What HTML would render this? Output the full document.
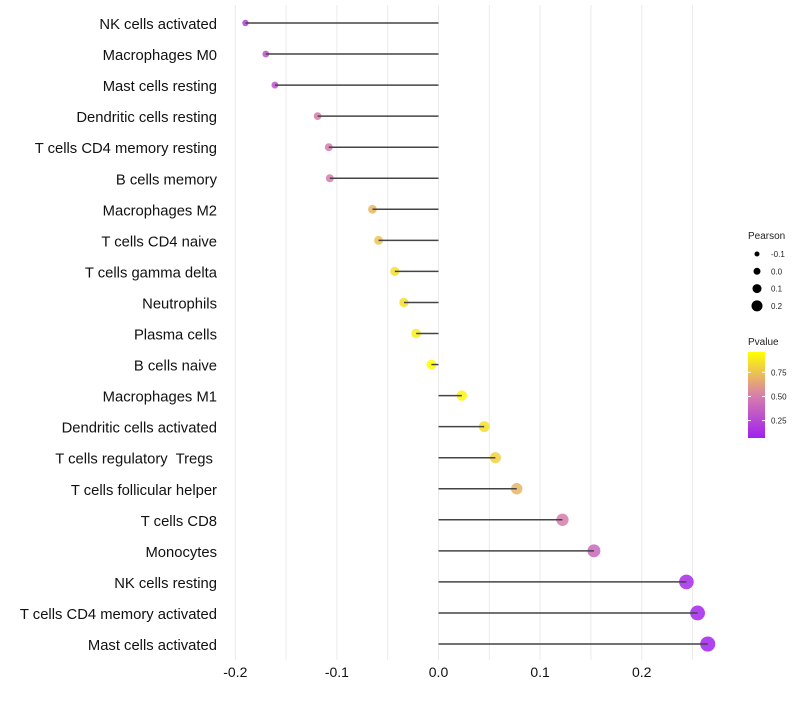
<!DOCTYPE html>
<html><head><meta charset="utf-8"><style>
body{margin:0;background:#fff;font-family:"Liberation Sans",sans-serif}
text{white-space:pre}
</style></head><body>
<svg id="c" width="800" height="700" xmlns="http://www.w3.org/2000/svg" font-family="Liberation Sans, sans-serif"></svg>
<script>
const categories=["NK cells activated","Macrophages M0","Mast cells resting","Dendritic cells resting","T cells CD4 memory resting","B cells memory","Macrophages M2","T cells CD4 naive","T cells gamma delta","Neutrophils","Plasma cells","B cells naive","Macrophages M1","Dendritic cells activated","T cells regulatory  Tregs ","T cells follicular helper","T cells CD8","Monocytes","NK cells resting","T cells CD4 memory activated","Mast cells activated"];
const pearson=[-0.190,-0.170,-0.161,-0.119,-0.108,-0.107,-0.065,-0.059,-0.043,-0.034,-0.022,-0.007,0.023,0.045,0.056,0.077,0.122,0.153,0.244,0.255,0.265];
const pvalue=[0.22,0.30,0.30,0.50,0.50,0.50,0.70,0.75,0.85,0.85,0.90,0.98,0.93,0.85,0.80,0.70,0.50,0.40,0.12,0.10,0.08];
const xTicks=[-0.2,-0.1,0.0,0.1,0.2];
const xTickLabels=["-0.2","-0.1","0.0","0.1","0.2"];
const sizeLegend=[-0.1,0.0,0.1,0.2];
const colorLegend=[0.25,0.50,0.75];
const NS="http://www.w3.org/2000/svg",svg=document.getElementById('c');
const x=v=>438.5+v*1016;
const y=i=>23+i*31.05;
const r=v=>5+9.5*v;
function lerp(a,b,t){return a.map((c,i)=>Math.round(c+(b[i]-c)*t));}
function col(p){const lo=0.07,hi=0.96;let t=Math.max(0,Math.min(1,(p-lo)/(hi-lo)));
 const A=[160,32,240],M=[216,128,170],B=[255,255,0];
 const c=t<0.5?lerp(A,M,t*2):lerp(M,B,(t-0.5)*2);return `rgb(${c})`;}
function el(t,a,p){const e=document.createElementNS(NS,t);for(const k in a)e.setAttribute(k,a[k]);(p||svg).appendChild(e);return e;}
for(let v=-0.2;v<=0.2501;v+=0.05){const g=el('line',{x1:x(v),x2:x(v),y1:5,y2:660,stroke:'#ebebeb','stroke-width':1});

}
xTicks.forEach((v,i)=>{const t=el('text',{x:x(v),y:677,'text-anchor':'middle','font-size':14,fill:'#111'});t.textContent=xTickLabels[i];

});
categories.forEach((c,i)=>{
 const t=el('text',{x:217,y:y(i)+6,'text-anchor':'end','font-size':14.8,fill:'#111'});t.textContent=c;
 
 
 const d=el('circle',{cx:x(pearson[i]),cy:y(i),r:r(pearson[i]),fill:col(pvalue[i]),'fill-opacity':0.85});
 
 
 const l=el('line',{x1:x(0),x2:x(pearson[i]),y1:y(i),y2:y(i),stroke:'#444','stroke-width':1.5});
 
 
});
let lt=el('text',{x:748,y:239,'font-size':10,fill:'#222'});lt.textContent='Pearson';


sizeLegend.forEach((v,i)=>{const cy=254+i*17.3;
 const c=el('circle',{cx:757,cy:cy,r:3.5+v*10,fill:'#000'});
 
 
 const t=el('text',{x:771,y:cy+3,'font-size':8,fill:'#222'});t.textContent=v.toFixed(1);
 
 });
lt=el('text',{x:748,y:345,'font-size':10,fill:'#222'});lt.textContent='Pvalue';


const defs=el('defs',{});const gr=el('linearGradient',{id:'g',x1:0,y1:1,x2:0,y2:0},defs);
for(let s=0;s<=10;s++){el('stop',{offset:s/10,'stop-color':col(0.07+0.89*s/10)},gr);}
const bar=el('rect',{x:748,y:352,width:17,height:86,fill:'url(#g)'});


colorLegend.forEach(v=>{const cy=352+(0.96-v)/0.89*86;
 el('line',{x1:748,x2:751,y1:cy,y2:cy,stroke:'#fff'});el('line',{x1:762,x2:765,y1:cy,y2:cy,stroke:'#fff'});
 const t=el('text',{x:771,y:cy+3,'font-size':8,fill:'#222'});t.textContent=v.toFixed(2);
 
 });
</script>
</body></html>
